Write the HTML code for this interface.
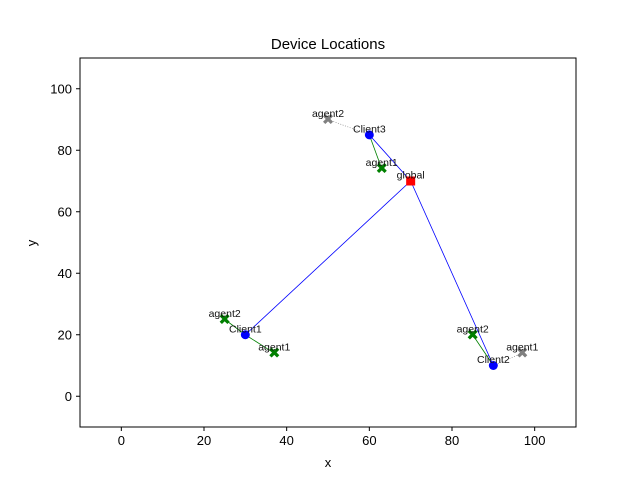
<!DOCTYPE html>
<html><head><meta charset="utf-8"><style>body{margin:0;background:#fff}svg{display:block;font-family:"Liberation Sans","DejaVu Sans",sans-serif}</style></head>
<body>
<svg id="c" width="640" height="480"></svg>
<script>
const clientNames=["Client1","Client2","Client3"];
const clientX=[30,90,60];
const clientY=[20,10,85];
const globalPt=[70,70];
const agentClient=[0,0,1,1,2,2];
const agentNames=["agent2","agent1","agent2","agent1","agent2","agent1"];
const agentX=[25,37,85,97,50,63];
const agentY=[25,14,20,14,90,74];
const agentActive=[true,true,true,false,false,true];
const xTicks=[0,20,40,60,80,100];
const yTicks=[0,20,40,60,80,100];
const X0=80,X1=576,Y0=58,Y1=427;
const sx=v=>X0+(v+10)/120*(X1-X0);
const sy=v=>Y1-(v+10)/120*(Y1-Y0);
const svg=document.getElementById('c');
const NS='http://www.w3.org/2000/svg';
function mk(t,a,p){const e=document.createElementNS(NS,t);for(const k in a)e.setAttribute(k,a[k]);(p||svg).appendChild(e);return e;}
let e;
e=mk('rect',{x:X0,y:Y0,width:X1-X0,height:Y1-Y0,fill:'none',stroke:'#000','stroke-width':1});


xTicks.forEach(v=>{mk('line',{x1:sx(v),x2:sx(v),y1:Y1,y2:Y1+4,stroke:'#000'});
 e=mk('text',{x:sx(v),y:Y1+18,'text-anchor':'middle','font-size':13});e.textContent=v;
 
 });
yTicks.forEach(v=>{mk('line',{x1:X0-4,x2:X0,y1:sy(v),y2:sy(v),stroke:'#000'});
 e=mk('text',{x:X0-8,y:sy(v)+4.5,'text-anchor':'end','font-size':13});e.textContent=v;
 
 });
e=mk('text',{x:(X0+X1)/2,y:467,'text-anchor':'middle','font-size':13});e.textContent='x';


e=mk('text',{x:36,y:243,'text-anchor':'middle','font-size':13,transform:'rotate(-90 36 243)'});e.textContent='y';


e=mk('text',{x:(X0+X1)/2,y:49,'text-anchor':'middle','font-size':15});e.textContent='Device Locations';


clientX.forEach((cx,i)=>{e=mk('line',{x1:sx(globalPt[0]),y1:sy(globalPt[1]),x2:sx(cx),y2:sy(clientY[i]),stroke:'#0000ff','stroke-width':0.8});
 
 });
agentX.forEach((ax,i)=>{const c=agentClient[i];
 e=mk('line',{x1:sx(clientX[c]),y1:sy(clientY[c]),x2:sx(ax),y2:sy(agentY[i]),stroke:agentActive[i]?'#008000':'#808080','stroke-width':agentActive[i]?0.8:0.6,'stroke-dasharray':agentActive[i]?'none':'1,1.5'});
 
 });
function lbl(x,y,t){const e=mk('text',{x:x,y:y-2.5,'text-anchor':'middle','font-size':10.5,fill:'#111'});e.textContent=t;return e;}
agentX.forEach((ax,i)=>{const x=sx(ax),y=sy(agentY[i]);
 e=mk('text',{x:x,y:y+5,'text-anchor':'middle','font-size':15,'font-weight':'bold',fill:agentActive[i]?'#008000':'#808080'});e.textContent='✖';
 
 
 e=lbl(x,y,agentNames[i]);
 
 });
clientX.forEach((cx,i)=>{const x=sx(cx),y=sy(clientY[i]);
 e=mk('circle',{cx:x,cy:y,r:4.5,fill:'#0000ff'});
 
 
 e=lbl(x,y,clientNames[i]);
 
 });
e=mk('rect',{x:sx(globalPt[0])-4.5,y:sy(globalPt[1])-4.5,width:9,height:9,fill:'#ff0000'});


e=lbl(sx(globalPt[0]),sy(globalPt[1]),'global');


</script>
</body></html>
